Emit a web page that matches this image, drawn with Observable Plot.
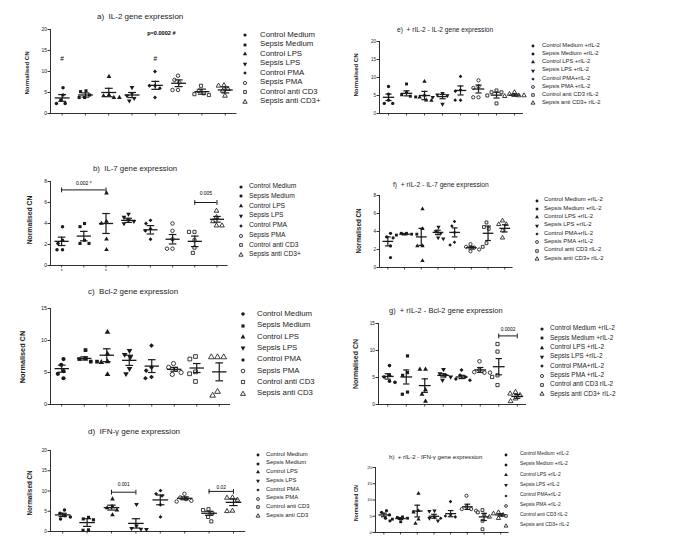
<!DOCTYPE html>
<html><head><meta charset="utf-8">
<script src="https://cdn.jsdelivr.net/npm/d3@7"></script>
<script src="https://cdn.jsdelivr.net/npm/@observablehq/plot@0.6"></script>
<style>
body{margin:0;background:#fff;}
#root{position:relative;width:685px;height:550px;overflow:hidden;background:#fff;font-family:"Liberation Sans",Arial,Helvetica,sans-serif;color:#1a1a1a;}
.abs{position:absolute;white-space:pre;line-height:1;}
.ylab{font-weight:bold;transform:translate(-50%,-50%) rotate(-90deg);}
svg.plotsvg{position:absolute;}
</style></head><body><div id="root"></div>
<script>
// ---------- DATA ----------
const labelsA = ["Control Medium","Sepsis Medium","Control LPS","Sepsis LPS","Control PMA","Sepsis PMA","Control anti CD3","Sepsis anti CD3+"];
const labelsC = ["Control Medium","Sepsis Medium","Control LPS","Sepsis LPS","Control PMA","Sepsis PMA","Control anti CD3","Sepsis anti CD3"];
const labelsR = ["Control Medium +rIL-2","Sepsis Medium +rIL-2","Control LPS +rIL-2","Sepsis LPS +rIL-2","Control PMA+rIL-2","Sepsis PMA +rIL-2","Control anti CD3 rIL-2","Sepsis anti CD3+ rIL-2"];

// a) IL-2
const aValues = [[6.1,4.4,3.2,2.4,2.4],[5.4,5.2,4.4,3.8,3.8],[8.8,4.4,4.2,3.8,3.8],[6.2,4.8,4.2,3.6,3.0],[10.0,6.6,6.6,6.0,3.8],[9.0,8.0,7.4,5.6,5.6],[6.6,5.4,4.8,4.6,4.4],[6.7,6.6,5.8,5.4,4.2]];
const aMean = [3.7,4.4,5.0,4.4,6.7,7.2,5.2,5.6];
const aSem = [0.8,0.5,1.0,0.6,0.95,0.8,0.6,0.7];
const aNotes = [{group:"Control Medium",y:13,text:"#"},{group:"Control PMA",y:13,text:"#"}];
const aPNote = [{group:"Control PMA",y:19,text:"p=0.0002 #"}];

// e) + rIL-2 - IL-2
const eValues = [[7.5,5.4,3.7,2.8,2.8],[8.2,5.8,5.2,4.8,4.6],[8.9,5.1,4.5,3.7,3.6],[5.6,5.2,5.0,4.5,2.6],[10.3,6.5,6.2,3.7,3.7],[9.2,7.5,7.1,4.5,4.5],[6.4,5.9,5.9,5.0,2.8],[5.9,5.4,5.0,5.0,4.8]];
const eMean = [4.5,5.6,5.0,4.7,6.4,6.8,5.1,5.1];
const eSem = [0.9,0.7,1.15,0.6,1.25,1.1,0.8,0.3];

// b) IL-7
const bValues = [[3.7,2.4,2.1,1.5,1.5],[4.0,3.7,2.4,2.1,2.1],[6.9,4.2,4.0,2.5,1.5],[4.9,4.6,4.3,4.2,4.0],[4.3,4.0,3.5,3.3,2.5],[4.0,3.3,2.5,1.6,1.6],[3.2,3.2,2.4,1.7,1.2],[5.2,4.6,4.2,3.8,3.8]];
const bMean = [2.3,2.8,4.0,4.3,3.4,2.5,2.3,4.4];
const bSem = [0.4,0.45,0.95,0.2,0.4,0.45,0.5,0.27];
const bBrackets = [{from:"Control Medium",to:"Control LPS",y:7.2,ly:7.8,label:"0.002 *"},{from:"Control anti CD3",to:"Sepsis anti CD3+",y:6.0,ly:6.85,label:"0.005"}];
const bTickLabels = ["*","","*","","","","",""];

// f) + rIL-2 - IL-7
const fValues = [[3.8,3.4,3.3,2.4,1.1],[3.8,3.8,3.7,3.7,3.6],[6.5,4.3,2.4,2.4,0.75],[4.5,4.0,3.8,3.3,3.2],[5.1,4.6,3.9,2.8,2.5],[2.6,2.3,2.2,2.0,1.8],[5.0,4.5,4.3,2.7,2.3],[5.2,4.8,4.8,4.1,3.3]];
const fMean = [2.9,3.7,3.4,3.9,3.9,2.2,3.8,4.35];
const fSem = [0.5,0.08,0.95,0.25,0.5,0.15,0.8,0.4];

// c) Bcl-2
const cValues = [[7.1,6.2,5.2,4.8,4.1],[8.5,7.2,7.1,6.7,6.7],[11.3,7.9,6.7,6.6,4.7],[8.4,7.8,7.4,5.6,4.8],[9.2,5.8,5.3,4.3,4.1],[6.4,5.8,5.5,5.0,4.7],[7.5,7.1,5.1,4.8,3.6],[7.4,7.4,7.4,2.0,1.4]];
const cMean = [5.6,7.2,7.7,6.9,6.0,5.5,5.7,5.1];
const cSem = [0.55,0.25,1.0,0.8,1.0,0.3,0.7,1.4];

// g) + rIL-2 - Bcl-2
const gValues = [[7.2,5.4,5.1,4.3,4.1],[9.0,5.9,5.4,2.3,1.9],[6.5,6.5,2.7,1.9,0.6],[6.5,5.7,5.4,5.1,4.5],[6.4,5.4,5.1,4.7,4.5],[8.0,6.4,6.0,5.9,5.9],[11.2,9.8,5.4,5.1,3.6],[2.3,2.0,1.7,1.1,0.6]];
const gMean = [5.2,5.1,3.5,5.4,5.1,6.4,7.0,1.5];
const gSem = [0.5,1.3,1.25,0.3,0.3,0.45,1.5,0.35];
const gBrackets = [{from:"Control anti CD3 rIL-2",to:"Sepsis anti CD3+ rIL-2",y:12.7,ly:13.9,label:"0.0002"}];

// d) IFN-γ
const dValues = [[5.3,4.5,3.9,3.6,3.1],[3.5,3.1,2.9,0.4,0.3],[8.0,6.1,5.8,5.3,4.1],[6.7,1.4,0.8,0.6,0.5],[10.1,9.3,8.8,6.6,3.6],[9.3,8.4,8.0,7.6,7.4],[5.5,5.3,4.5,3.6,2.5],[8.4,8.3,7.8,5.1,5.0]];
const dMean = [4.1,2.2,5.9,2.0,7.8,8.2,4.5,7.2];
const dSem = [0.4,0.95,0.6,1.15,1.2,0.35,0.5,0.8];
const dBrackets = [{from:"Control LPS",to:"Sepsis LPS",y:9.7,ly:11.5,label:"0.001"},{from:"Control anti CD3",to:"Sepsis anti CD3",y:9.9,ly:10.9,label:"0.02"}];

// h) + rIL-2 - IFN-γ
const hValues = [[6.7,6.2,5.4,4.4,3.6],[4.8,4.6,4.4,4.1,3.3],[12.0,6.7,6.2,4.1,2.8],[6.7,6.5,4.8,4.4,3.6],[9.5,5.4,5.1,4.8,4.4],[11.3,7.9,7.2,7.2,6.7],[6.9,6.2,5.4,3.6,1.0],[6.2,5.8,5.4,4.8,4.4]];
const hMean = [5.4,4.3,6.6,5.0,5.8,7.9,4.8,5.4];
const hSem = [0.55,0.3,1.8,0.6,0.95,0.8,1.1,0.35];

const titles = {
  a:"a)  IL-2 gene expression", b:"b)  IL-7 gene expression", c:"c)  Bcl-2 gene expression", d:"d)  IFN-\u03b3 gene expression",
  e:"e)  + rIL-2 - IL-2 gene expression", f:"f)  + rIL-2 - IL-7 gene expression", g:"g)  + rIL-2 - Bcl-2 gene expression", h:"h)  + rIL-2 - IFN-\u03b3 gene expression"
};
const yLabel = "Normalised CN";
const ticks20 = [0,5,10,15,20], ticks8 = [0,2,4,6,8], ticks15 = [0,5,10,15];

// ---------- SYMBOLS ----------
const sqrt3 = Math.sqrt(3);
const triDown = {draw(ctx,size){const y=-Math.sqrt(size/(sqrt3*3));ctx.moveTo(0,-y*2);ctx.lineTo(-sqrt3*y,y);ctx.lineTo(sqrt3*y,y);ctx.closePath();}};
const hline = {draw(ctx,size){const r=Math.sqrt(size/Math.PI);ctx.moveTo(-r,0);ctx.lineTo(r,0);}};
const vline = {draw(ctx,size){const r=Math.sqrt(size/Math.PI);ctx.moveTo(0,-r);ctx.lineTo(0,r);}};
const SYMBOLS = [d3.symbolCircle,d3.symbolSquare,d3.symbolTriangle,triDown,d3.symbolDiamond2,d3.symbolCircle,d3.symbolSquare,d3.symbolTriangle];
const FILLED = [true,true,true,true,true,false,false,false];
const INK = "#1a1a1a";
const FONT = '"Liberation Sans", Arial, Helvetica, sans-serif';

// ---------- LAYOUT ----------
const layout = [
  {labels:labelsA, values:aValues, mean:aMean, sem:aSem, ymax:20, yticks:ticks20, title:titles.a, notes:aNotes, pnotes:aPNote,
   axisX:50, yTop:29, y0:113, step:23.3, r:1.75, tfs:5,
   t:{x:97,y:17,fs:8}, yl:{x:27,y:73,fs:6}, lg:{mx:245,tx:260,y0:35,dy:9.52,fs:7.8,r:1.6}},
  {labels:labelsR, values:eValues, mean:eMean, sem:eSem, ymax:20, yticks:ticks20, title:titles.e,
   axisX:379, yTop:41, y0:113, step:18, r:1.65, tfs:4.6,
   t:{x:397,y:30,fs:6.6}, yl:{x:356,y:75,fs:6}, lg:{mx:533,tx:542,y0:46,dy:8.19,fs:5.8,r:1.45}},
  {labels:labelsA, values:bValues, mean:bMean, sem:bSem, ymax:8, yticks:ticks8, title:titles.b, brackets:bBrackets, tickLabels:bTickLabels,
   axisX:50, yTop:181, y0:265, step:22.2, r:1.75, tfs:5,
   t:{x:93,y:169,fs:7.8}, yl:{x:30,y:220,fs:6.8}, lg:{mx:241,tx:249,y0:186.7,dy:9.76,fs:6.7,r:1.55}},
  {labels:labelsR, values:fValues, mean:fMean, sem:fSem, ymax:8, yticks:ticks8, title:titles.f,
   axisX:379, yTop:195, y0:267, step:16.7, r:1.6, tfs:4.6,
   t:{x:393,y:185,fs:6.7}, yl:{x:359,y:231,fs:6.3}, lg:{mx:537,tx:544,y0:200.7,dy:8.33,fs:5.9,r:1.45}},
  {labels:labelsC, values:cValues, mean:cMean, sem:cSem, ymax:15, yticks:ticks15, title:titles.c,
   axisX:50, yTop:308, y0:404, step:22.5, r:2.1, tfs:5.5,
   t:{x:88,y:292,fs:8}, yl:{x:23,y:357,fs:7.3}, lg:{mx:243,tx:257,y0:314.3,dy:11.33,fs:7.8,r:1.8}},
  {labels:labelsR, values:gValues, mean:gMean, sem:gSem, ymax:15, yticks:ticks15, title:titles.g, brackets:gBrackets,
   axisX:378, yTop:323, y0:404, step:18.5, r:1.8, tfs:4.8,
   t:{x:389,y:311,fs:7.5}, yl:{x:355,y:364,fs:7}, lg:{mx:542,tx:550,y0:329,dy:9.33,fs:6.5,r:1.55}},
  {labels:labelsC, values:dValues, mean:dMean, sem:dSem, ymax:20, yticks:ticks20, title:titles.d, brackets:dBrackets,
   axisX:50, yTop:450, y0:531, step:24.4, r:1.75, tfs:4.8,
   t:{x:88,y:432,fs:8}, yl:{x:30,y:493,fs:6.3}, lg:{mx:258,tx:266,y0:455,dy:8.71,fs:5.9,r:1.45}},
  {labels:labelsR, values:hValues, mean:hMean, sem:hSem, ymax:20, yticks:ticks20, title:titles.h,
   axisX:375, yTop:467, y0:532, step:16.7, r:1.6, tfs:4.4,
   t:{x:389,y:457,fs:6.1}, yl:{x:356,y:503,fs:5}, lg:{mx:506,tx:520,y0:455,dy:10.14,fs:4.9,r:1.4}}
];

const root = document.getElementById("root");
function addDiv(cls, text, css){const el=document.createElement("div");el.className="abs "+cls;el.textContent=text;Object.assign(el.style,css);root.appendChild(el);return el;}

function drawPanel(p){
  const n = p.labels.length;
  const svgLeft = p.axisX - 26, svgTop = p.yTop - 8;
  const ml = p.axisX - svgLeft, mt = p.yTop - svgTop, mb = 14, mr = 4;
  const width = ml + n*p.step + mr, height = p.y0 - svgTop + mb;
  const rows = p.values.flatMap((vs,i)=>vs.map(v=>({group:p.labels[i], gi:i, value:v})));
  const stats = p.labels.map((g,i)=>({group:g, gi:i, mean:p.mean[i], lo:p.mean[i]-p.sem[i], hi:p.mean[i]+p.sem[i]}));
  const idx = g => p.labels.indexOf(g);
  const brackets = (p.brackets||[]).map(b=>({...b, i1:idx(b.from), i2:idx(b.to)}));
  const notes = (p.notes||[]).map(d=>({...d, gi:idx(d.group)}));
  const pnotes = (p.pnotes||[]).map(d=>({...d, gi:idx(d.group)}));
  const tickLabels = p.tickLabels || [];
  const common = {width, height, marginLeft:ml, marginRight:mr, marginTop:mt, marginBottom:mb,
    style:{background:"transparent", overflow:"visible", fontFamily:FONT, fontSize:p.tfs+"px", color:INK}};
  const meanHalf = p.step*0.32, capHalf = p.step*0.17;

  const over = Plot.plot({...common,
    x:{domain:[-0.5, n-0.5]},
    y:{domain:[0, p.ymax]},
    marks:[
      Plot.ruleY([0], {stroke:INK, strokeWidth:0.9}),
      Plot.ruleX([-0.5], {y1:0, y2:p.ymax, stroke:INK, strokeWidth:0.9}),
      Plot.axisX({ticks:d3.range(n), tickSize:2.5, tickPadding:1.5, tickFormat:i=>tickLabels[i]||"", label:null, strokeWidth:0.8}),
      Plot.axisY({ticks:p.yticks, tickSize:2.5, tickPadding:1, label:null, strokeWidth:0.9}),
      Plot.ruleX(stats, {x:"gi", y1:"lo", y2:"hi", stroke:INK, strokeWidth:1.2}),
      Plot.dot(stats, {x:"gi", y:"mean", symbol:hline, r:meanHalf, fill:"none", stroke:INK, strokeWidth:1.3}),
      Plot.dot(stats, {x:"gi", y:"lo", symbol:hline, r:capHalf, fill:"none", stroke:INK, strokeWidth:1.2}),
      Plot.dot(stats, {x:"gi", y:"hi", symbol:hline, r:capHalf, fill:"none", stroke:INK, strokeWidth:1.2}),
      Plot.ruleY(brackets, {x1:"i1", x2:"i2", y:"y", stroke:INK, strokeWidth:1}),
      Plot.dot(brackets, {x:"i1", y:"y", symbol:vline, r:2.4, fill:"none", stroke:INK, strokeWidth:1}),
      Plot.dot(brackets, {x:"i2", y:"y", symbol:vline, r:2.4, fill:"none", stroke:INK, strokeWidth:1}),
      Plot.text(brackets, {x:d=>(d.i1+d.i2)/2, y:"ly", text:"label", fontSize:p.tfs, fill:"black"}),
      Plot.text(notes, {x:"gi", y:"y", text:"text", fontSize:6.5, fill:"black", fontFamily:FONT}),
      Plot.text(pnotes, {x:"gi", y:"y", text:"text", fontSize:5.6, fontWeight:"bold", dx:6, fill:"black"})
    ]
  });
  const dots = Plot.plot({...common,
    fx:{domain:p.labels, padding:0, axis:null, label:null},
    y:{domain:[0, p.ymax], axis:null},
    marks: p.labels.map((g,i)=>Plot.dot(rows.filter(r=>r.gi===i),
      Plot.dodgeX({anchor:"middle", padding:2}, {fx:"group", y:"value", r:p.r, symbol:SYMBOLS[i],
        fill:FILLED[i]?INK:"#fff", stroke:FILLED[i]?"none":INK, strokeWidth:0.85})))
  });
  for (const s of [dots, over]) {
    s.classList.add("plotsvg");
    s.style.left = svgLeft+"px"; s.style.top = svgTop+"px"; s.style.position="absolute";
    root.appendChild(s);
  }
  addDiv("", p.title, {left:p.t.x+"px", top:(p.t.y-p.t.fs/2)+"px", fontSize:p.t.fs+"px"});
  addDiv("ylab", yLabel, {left:p.yl.x+"px", top:p.yl.y+"px", fontSize:p.yl.fs+"px"});
  p.labels.forEach((lab,i)=>{
    const y = p.lg.y0 + i*p.lg.dy;
    const ns="http://www.w3.org/2000/svg";
    const svg=document.createElementNS(ns,"svg");
    svg.setAttribute("width",10);svg.setAttribute("height",10);
    svg.style.position="absolute";svg.style.left=(p.lg.mx-5)+"px";svg.style.top=(y-5)+"px";svg.style.overflow="visible";
    const path=document.createElementNS(ns,"path");
    path.setAttribute("d", d3.symbol(SYMBOLS[i], Math.PI*p.lg.r*p.lg.r)());
    path.setAttribute("transform","translate(5,5)");
    path.setAttribute("fill", FILLED[i]?INK:"#fff");
    path.setAttribute("stroke", FILLED[i]?"none":INK);
    path.setAttribute("stroke-width", 0.85);
    svg.appendChild(path); root.appendChild(svg);
    addDiv("", lab, {left:p.lg.tx+"px", top:(y-p.lg.fs*0.55)+"px", fontSize:p.lg.fs+"px"});
  });
}
layout.forEach(drawPanel);
</script></body></html>
